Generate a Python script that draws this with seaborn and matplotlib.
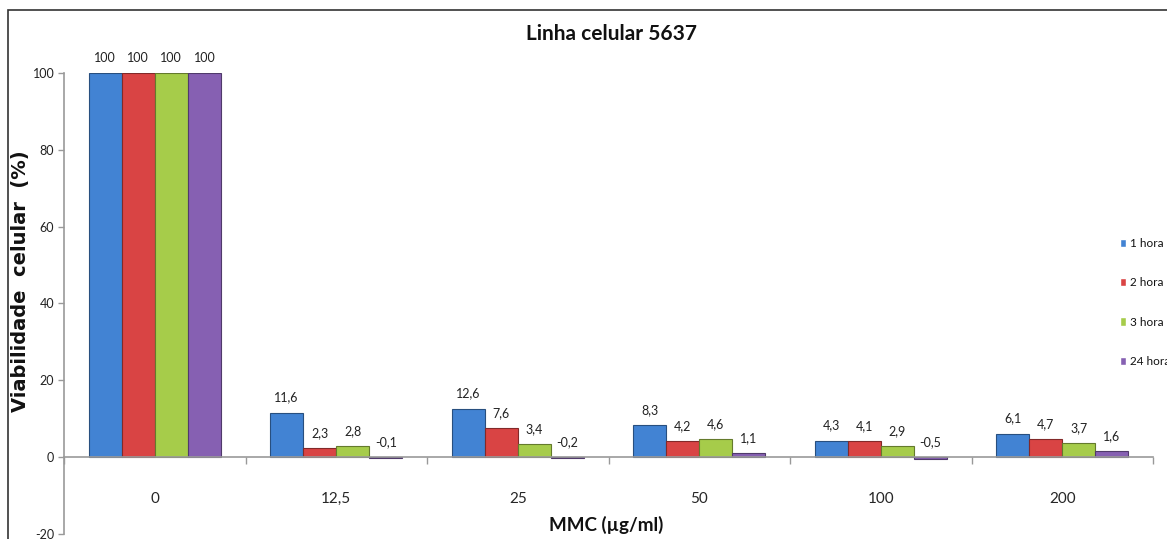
import numpy as np
import pandas as pd
import matplotlib
matplotlib.use("Agg")
import matplotlib.pyplot as plt
import matplotlib.colors as mcolors
from matplotlib.patches import Rectangle
import seaborn as sns

# Concentrations of MMC (µg/ml) and cell viability (%) per exposure time
concentrations = ["0", "12,5", "25", "50", "100", "200"]
series_names = ["1 hora", "2 hora", "3 hora", "24 horas"]
viab_1h = [100, 11.6, 12.6, 8.3, 4.3, 6.1]
viab_2h = [100, 2.3, 7.6, 4.2, 4.1, 4.7]
viab_3h = [100, 2.8, 3.4, 4.6, 2.9, 3.7]
viab_24h = [100, -0.1, -0.2, 1.1, -0.5, 1.6]
y_ticks = [-20, 0, 20, 40, 60, 80, 100]

colors = ["#4283d3", "#d94444", "#a6cc4a", "#8660b2"]

rows = []
for name, vals in zip(series_names, [viab_1h, viab_2h, viab_3h, viab_24h]):
    for c, v in zip(concentrations, vals):
        rows.append({"conc": c, "serie": name, "valor": v})
df = pd.DataFrame(rows)

sns.set_theme(style="white")
plt.rcParams["font.family"] = ["Lato", "DejaVu Sans"]

fig = plt.figure(figsize=(11.67, 5.39), dpi=100)
ax = fig.add_axes([64 / 1167, 1 - 534 / 539, (1153 - 64) / 1167, (534 - 73) / 539])

sns.barplot(data=df, x="conc", y="valor", hue="serie", order=concentrations,
            hue_order=series_names, palette=colors, width=0.73, dodge=True,
            saturation=1, ax=ax, legend=True, errorbar=None)

# darker outline on each bar
for cont, col in zip(ax.containers, colors):
    edge = tuple(np.array(mcolors.to_rgb(col)) * 0.6)
    for p in cont:
        p.set_edgecolor(edge)
        p.set_linewidth(0.8)

# value labels above each bar (comma decimals)
for cont in ax.containers:
    for p in cont:
        v = p.get_y() + p.get_height() if p.get_y() >= 0 else p.get_y()
        txt = f"{v:g}".replace(".", ",")
        ax.annotate(txt, (p.get_x() + p.get_width() / 2, max(v, 0)),
                    xytext=(0, 11), textcoords="offset points",
                    ha="center", va="center", fontsize=9, color="#222222")

ax.set_ylim(-20, 100)
ax.set_xlim(-0.5, len(concentrations) - 0.5)
ax.set_yticks(y_ticks)
ax.set_yticklabels([str(t) for t in y_ticks], fontsize=9, color="#222222")
ax.tick_params(axis="y", direction="out", length=4, color="#999999", width=1, pad=3, left=True)

# category boundaries as ticks, labels at the centres
ax.set_xticks(np.arange(-0.5, len(concentrations)), minor=False)
ax.set_xticklabels([])
ax.set_xticks(np.arange(len(concentrations)), minor=True)
ax.set_xticklabels(concentrations, minor=True, fontsize=9, color="#222222")
ax.tick_params(axis="x", which="major", direction="out", length=5, color="#999999", width=1, bottom=True)
ax.tick_params(axis="x", which="minor", length=0, pad=25)

ax.spines["bottom"].set_position(("data", 0))
for s in ["top", "right"]:
    ax.spines[s].set_visible(False)
for s in ["left", "bottom"]:
    ax.spines[s].set_color("#999999")
    ax.spines[s].set_linewidth(1.2)
ax.set_xlabel("")
ax.set_ylabel("")
ax.grid(False)

# legend on the right edge
handles, labels = ax.get_legend_handles_labels()
ax.legend(handles, labels, loc="upper left", bbox_to_anchor=(1120 / 1167, 1 - 238 / 539),
          bbox_transform=fig.transFigure, frameon=False, fontsize=8.5,
          handlelength=0.55, handleheight=0.7, handletextpad=0.3, labelspacing=2.4,
          borderaxespad=0, borderpad=0, labelcolor="#111111")

fig.text(612 / 1167, 1 - 34 / 539, "Linha celular 5637", ha="center", va="center",
         fontsize=15, fontweight="bold", color="#111111")
fig.text(606 / 1167, 1 - 525 / 539, "MMC (µg/ml)", ha="center", va="center",
         fontsize=13.5, fontweight="bold", color="#111111")
fig.text(21 / 1167, 1 - 281 / 539, "Viabilidade  celular  (%)", ha="center", va="center",
         rotation=90, fontsize=14, fontweight="bold", family=["DejaVu Sans"],
         color="#111111")

# outer chart frame
fig.patches.append(Rectangle((8 / 1167, -0.1), 1.2, 1 - 10 / 539 + 0.1,
                             transform=fig.transFigure, fill=False,
                             edgecolor="#333333", linewidth=1.2))

fig.savefig("out.png", dpi=100)
